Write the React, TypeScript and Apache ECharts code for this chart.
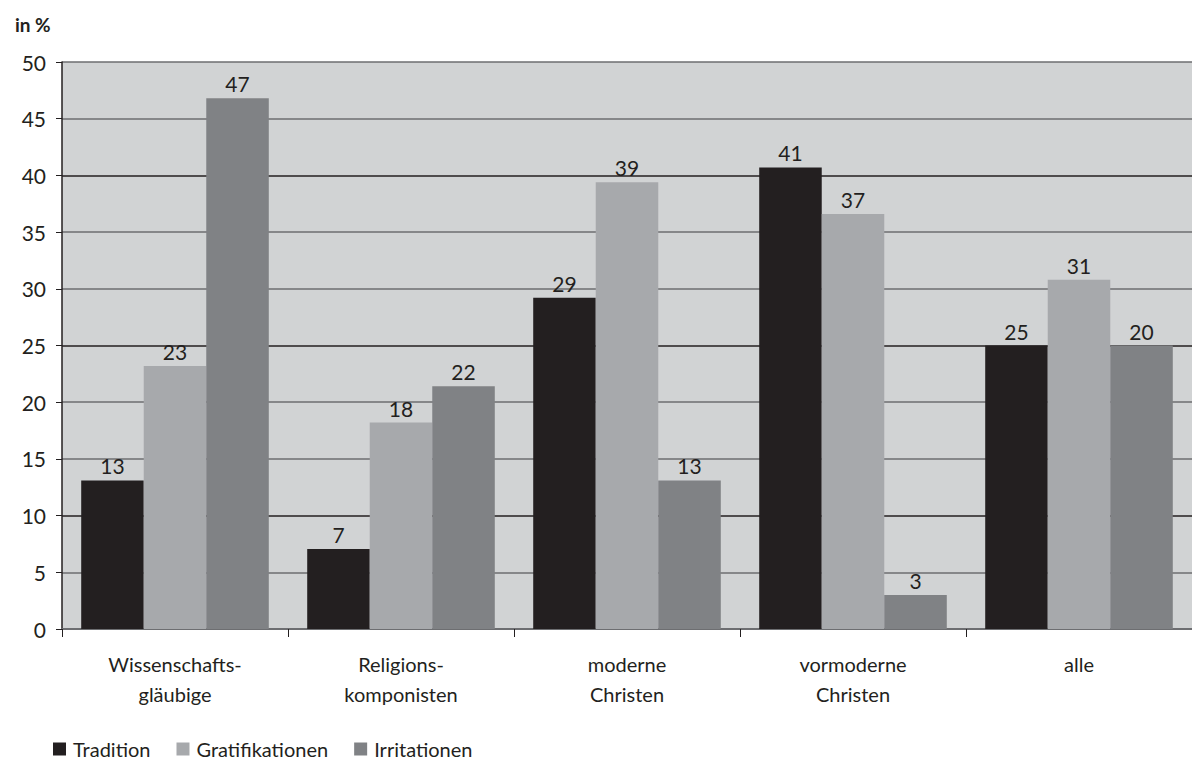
import React, { useEffect, useRef } from "react";
import * as echarts from "echarts";

const categories = [
  "Wissenschafts-\ngläubige",
  "Religions-\nkomponisten",
  "moderne\nChristen",
  "vormoderne\nChristen",
  "alle",
];
const seriesNames = ["Tradition", "Gratifikationen", "Irritationen"];
const tradition = [13.1, 7.05, 29.2, 40.7, 25];
const gratifikationen = [23.2, 18.2, 39.4, 36.6, 30.8];
const irritationen = [46.8, 21.4, 13.1, 3.0, 25];
const traditionLabels = ["13", "7", "29", "41", "25"];
const gratifikationenLabels = ["23", "18", "39", "37", "31"];
const irritationenLabels = ["47", "22", "13", "3", "20"];
const yTicks = [0, 5, 10, 15, 20, 25, 30, 35, 40, 45, 50];

const colors = ["#231f20", "#a7a9ac", "#808285"];
const FONT = "Lato";

export default function App() {
  const ref = useRef<HTMLDivElement>(null);
  useEffect(() => {
    document.body.style.margin = "0";
    if (!ref.current) return;
    const chart = echarts.init(ref.current, null, { renderer: "svg" });
    const values = [tradition, gratifikationen, irritationen];
    const labels = [traditionLabels, gratifikationenLabels, irritationenLabels];
    chart.setOption({
      animation: false,
      textStyle: { fontFamily: FONT },
      title: {
        text: "{b|in} {n|%}",
        left: 10,
        top: 10,
        textStyle: {
          rich: {
            b: { fontFamily: FONT, fontWeight: "bold", fontSize: 19, color: "#231f20" },
            n: { fontFamily: FONT, fontSize: 19, color: "#231f20" },
          },
        },
      },
      legend: {
        left: 53,
        top: 738,
        itemWidth: 13,
        itemHeight: 13,
        itemGap: 26,
        icon: "rect",
        padding: 0,
        data: seriesNames,
        textStyle: {
          fontFamily: FONT,
          fontSize: 20,
          lineHeight: 22,
          color: "#231f20",
          padding: [0, 0, 0, 2],
        },
      },
      grid: {
        left: 62,
        top: 62,
        width: 1140,
        height: 567,
        show: true,
        backgroundColor: "#d1d3d4",
        borderWidth: 0,
      },
      xAxis: {
        type: "category",
        data: categories,
        axisLine: { lineStyle: { color: "#6d6e71", width: 2 } },
        axisTick: { show: true, length: 8, lineStyle: { color: "#231f20", width: 1 } },
        axisLabel: {
          fontFamily: FONT,
          fontSize: 20,
          color: "#231f20",
          lineHeight: 30,
          margin: 20,
        },
      },
      yAxis: {
        type: "value",
        min: yTicks[0],
        max: yTicks[yTicks.length - 1],
        interval: 5,
        axisLine: { show: true, lineStyle: { color: "#231f20", width: 1.5 } },
        axisTick: { show: true, length: 6, lineStyle: { color: "#231f20" } },
        axisLabel: { fontFamily: FONT, fontSize: 21, color: "#231f20", margin: 16 },
        splitLine: {
          show: true,
          lineStyle: { color: ["#6d6e71", "#6d6e71", "#231f20"], width: 1.5 },
        },
      },
      series: seriesNames.map((name, i) => ({
        name,
        type: "bar",
        data: values[i],
        barGap: "0%",
        barCategoryGap: "17%",
        itemStyle: { color: colors[i] },
        label: {
          show: true,
          position: "top",
          distance: 4,
          fontFamily: FONT,
          fontSize: 21,
          color: "#231f20",
          formatter: (p: any) => labels[i][p.dataIndex],
        },
      })),
    });
    return () => chart.dispose();
  }, []);
  return <div ref={ref} style={{ width: 1192, height: 762 }} />;
}
